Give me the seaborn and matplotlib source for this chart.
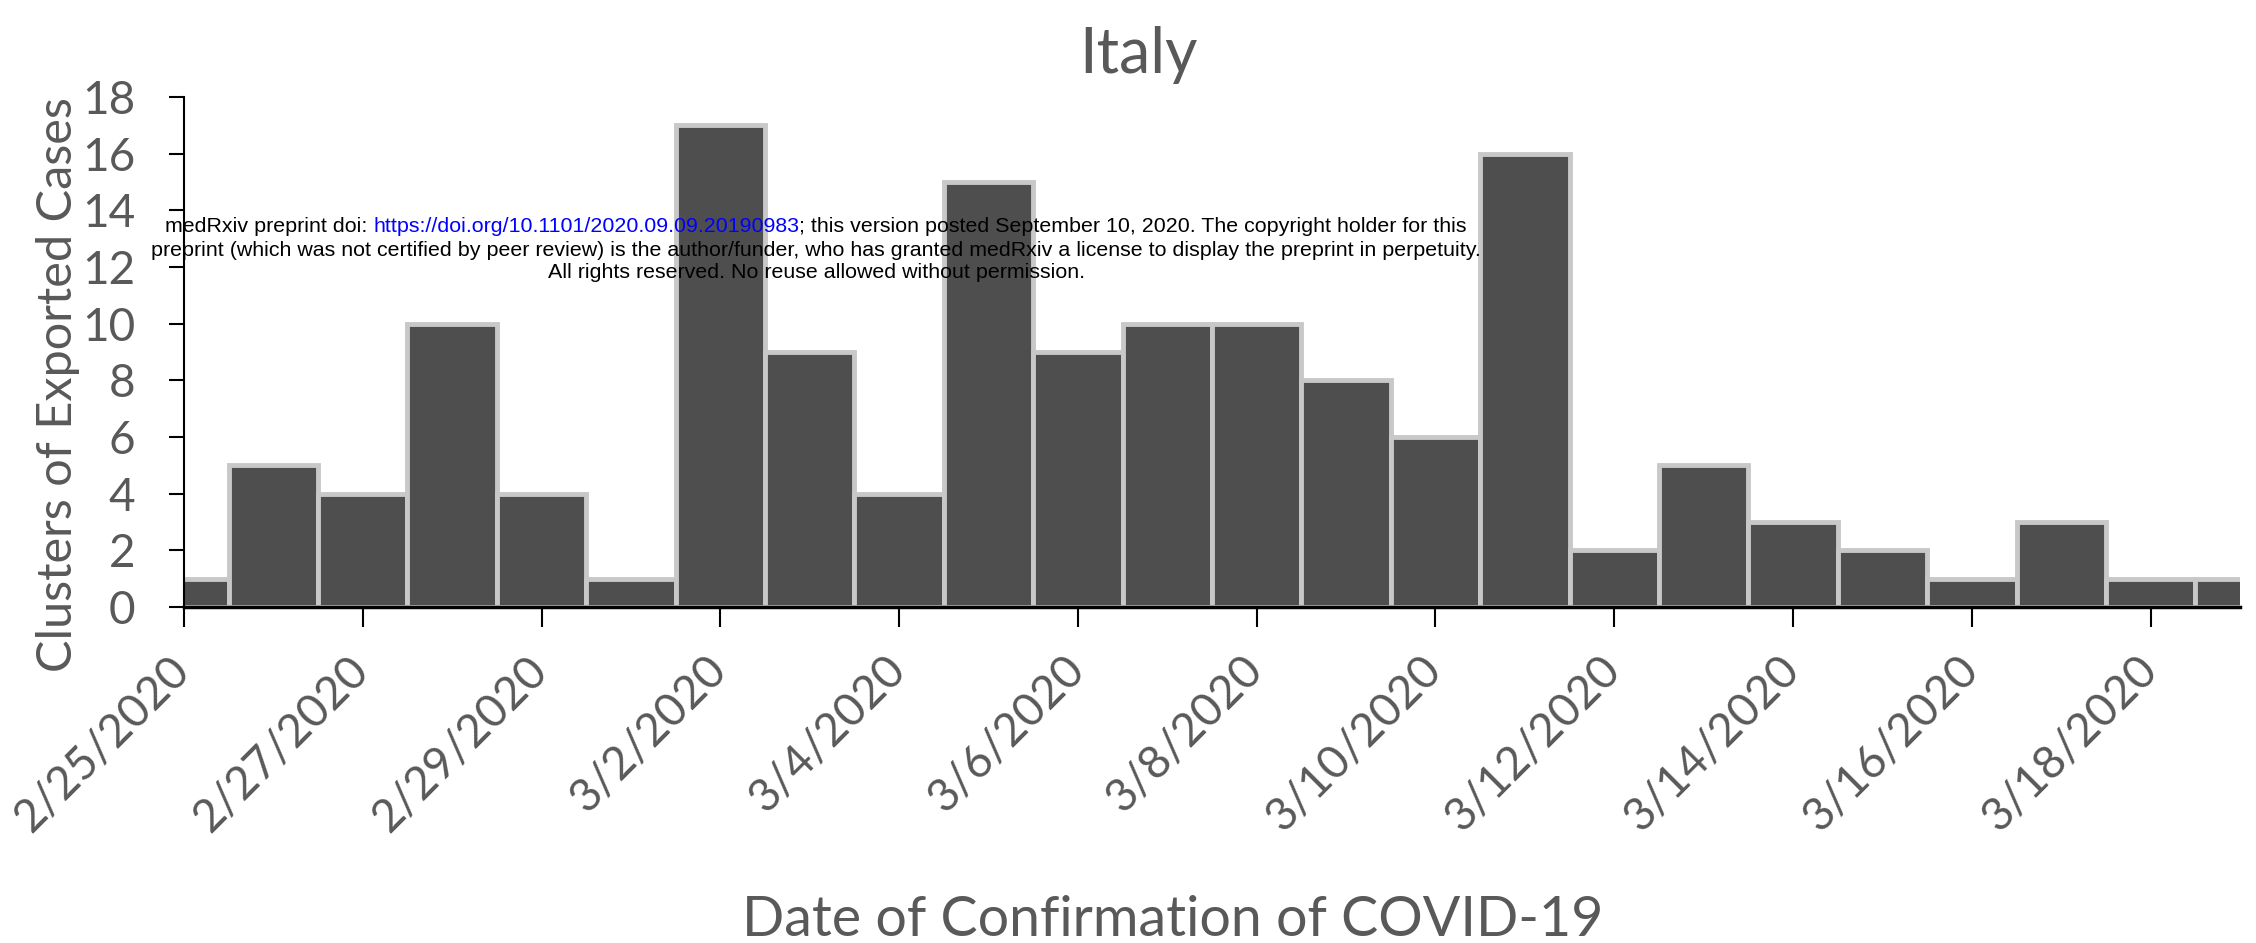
import matplotlib
matplotlib.use("Agg")
import matplotlib.pyplot as plt
import matplotlib.transforms as mtransforms
import seaborn as sns
import pandas as pd

dates = ["2/25/2020", "2/26/2020", "2/27/2020", "2/28/2020", "2/29/2020", "3/1/2020",
         "3/2/2020", "3/3/2020", "3/4/2020", "3/5/2020", "3/6/2020", "3/7/2020",
         "3/8/2020", "3/9/2020", "3/10/2020", "3/11/2020", "3/12/2020", "3/13/2020",
         "3/14/2020", "3/15/2020", "3/16/2020", "3/17/2020", "3/18/2020", "3/19/2020"]
clusters = [1, 5, 4, 10, 4, 1, 17, 9, 4, 15, 9, 10, 10, 8, 6, 16, 2, 5, 3, 2, 1, 3, 1, 1]
yticks = [0, 2, 4, 6, 8, 10, 12, 14, 16, 18]

title = "Italy"
xlabel = "Date of Confirmation of COVID-19"
ylabel = "Clusters of Exported Cases"

wm_line1 = ["medRxiv preprint doi: ", "https://doi.org/10.1101/2020.09.09.20190983",
            "; this version posted September 10, 2020. The copyright holder for this"]
wm_line2 = ("preprint (which was not certified by peer review) is the author/funder, who has granted "
            "medRxiv a license to display the preprint in perpetuity.")
wm_line3 = "All rights reserved. No reuse allowed without permission."

sns.set_theme(style="white")
plt.rcParams['font.family'] = ['Lato', 'DejaVu Sans']

W, H = 2256, 943
fig = plt.figure(figsize=(W / 100, H / 100), dpi=100)
ax = fig.add_axes([184 / W, 1 - 607 / H, (2240 - 184) / W, (607 - 97) / H])

df = pd.DataFrame({"date": dates, "n": clusters})
sns.barplot(data=df, x="date", y="n", ax=ax, color="#4e4e4e", saturation=1,
            width=1.0, edgecolor="#c8c8c8", linewidth=3.5)

ax.set_xlim(0, len(dates) - 1)
ax.set_ylim(0, 18)
ax.set_yticks(yticks)
ax.set_yticklabels([str(v) for v in yticks])
ax.set_xticks(range(0, len(dates), 2))
ax.set_xticklabels(dates[::2], rotation=45, ha="right", va="center",
                   rotation_mode="anchor")

gray = "#595959"
ax.tick_params(axis="y", direction="out", length=11, width=1.5, color="black",
               labelsize=33, labelcolor=gray, pad=24, left=True)
ax.tick_params(axis="x", direction="out", length=14.5, width=1.5, color="black",
               labelsize=33, labelcolor=gray, pad=26, bottom=True)
offset = mtransforms.ScaledTranslation(-1 / 100, 0, fig.dpi_scale_trans)
for lbl in ax.get_xticklabels():
    lbl.set_transform(lbl.get_transform() + offset)

for s in ["top", "right"]:
    ax.spines[s].set_visible(False)
ax.spines["left"].set_color("black")
ax.spines["left"].set_linewidth(1.5)
ax.spines["bottom"].set_color("black")
ax.spines["bottom"].set_linewidth(2.5)
ax.set_xlabel("")
ax.set_ylabel("")

fig.text(1138 / W, 1 - 73 / H, title, ha="center", va="baseline", fontsize=45, color=gray)
fig.text(1173 / W, 1 - 936 / H, xlabel, ha="center", va="baseline", fontsize=40, color=gray)
fig.text(58 / W, 1 - 385 / H, ylabel, ha="center", va="center", rotation=90,
         fontsize=35, color=gray)

# watermark
renderer = fig.canvas.get_renderer()
wm_font = "Liberation Sans"
probe = fig.text(0, 0, wm_line2, fontsize=10, family=wm_font)
w10 = probe.get_window_extent(renderer).width
probe.remove()
fs = 10 * 1334 / w10
cx = 816
widths = []
for p in wm_line1:
    t = fig.text(0, 0, p, fontsize=fs, family=wm_font)
    widths.append(t.get_window_extent(renderer).width)
    t.remove()
x0 = cx - sum(widths) / 2
colors = ["black", "blue", "black"]
for p, w, c in zip(wm_line1, widths, colors):
    fig.text(x0 / W, 1 - 227 / H, p, fontsize=fs, family=wm_font, color=c,
             ha="left", va="center")
    x0 += w
fig.text(cx / W, 1 - 250 / H, wm_line2, fontsize=fs, family=wm_font, color="black",
         ha="center", va="center")
fig.text(cx / W, 1 - 273 / H, wm_line3, fontsize=fs, family=wm_font, color="black",
         ha="center", va="center")

fig.savefig("out.png", dpi=100)
